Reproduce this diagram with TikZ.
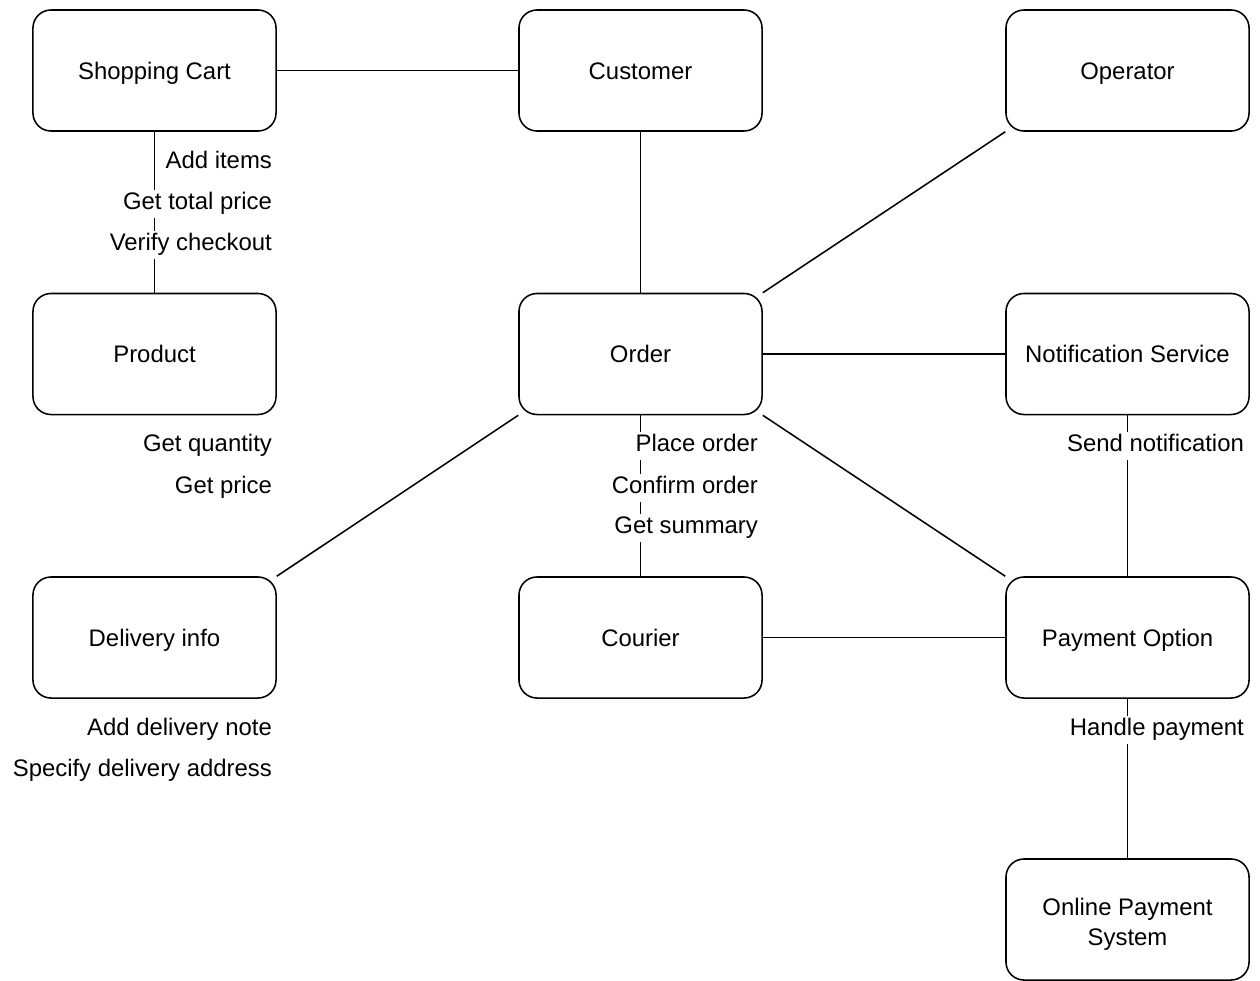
\documentclass[tikz,border=0pt]{standalone}
\usepackage{fontspec}
\setmainfont{Liberation Sans}
\begin{document}
\begin{tikzpicture}[x=0.025cm,y=-0.025cm,
    box/.style={draw,line width=1.1pt,rounded corners=0.45cm,minimum width=6.075cm,minimum height=3.025cm,align=center,text height=12.2pt,text depth=0pt,font=\fontsize{17}{21}\selectfont},
    lbl/.style={fill=white,anchor=east,inner sep=2pt,text height=12.5pt,text depth=4pt,font=\fontsize{17}{21}\selectfont},
    link/.style={line width=1.1pt}]
    \useasboundingbox(0,0)rectangle(1260,980);
    \node[box](cart)at(154.5,70.5){Shopping Cart};
    \node[box](customer)at(640.5,70.5){Customer};
    \node[box](operator)at(1127.5,70.5){Operator};
    \node[box](product)at(154.5,354){Product};
    \node[box](order)at(640.5,354){Order};
    \node[box](notify)at(1127.5,354){Notification Service};
    \node[box](delivery)at(154.5,637.5){Delivery info};
    \node[box](courier)at(640.5,637.5){Courier};
    \node[box](payment)at(1127.5,637.5){Payment Option};
    \node[box,text height=36.8pt](online)at(1127.5,919.5){Online Payment\\System};
    \draw[link](cart)--(customer);
    \draw[link](customer)--(order);
    \draw[link](operator.south west)--(order.north east);
    \draw[link](order)--(notify);
    \draw[link](order.south west)--(delivery.north east);
    \draw[link](order.south east)--(payment.north west);
    \draw[link](cart)--(product);
    \draw[link](order)--(courier);
    \draw[link](courier)--(payment);
    \draw[link](notify)--(payment);
    \draw[link](payment)--(online);
    \node[lbl](addItems)at(275,163){Add items};
    \node[lbl](totalPrice)at(275,204){Get total price};
    \node[lbl](verify)at(275,245){Verify checkout};
    \node[lbl](quantity)at(275,446){Get quantity};
    \node[lbl](price)at(275,488){Get price};
    \node[lbl](place)at(761,446){Place order};
    \node[lbl](confirm)at(761,488){Confirm order};
    \node[lbl](summary)at(761,528){Get summary};
    \node[lbl](send)at(1247,446){Send notification};
    \node[lbl](note)at(275,730){Add delivery note};
    \node[lbl](address)at(275,771){Specify delivery address};
    \node[lbl](handle)at(1247,730){Handle payment};
\end{tikzpicture}
\end{document}
